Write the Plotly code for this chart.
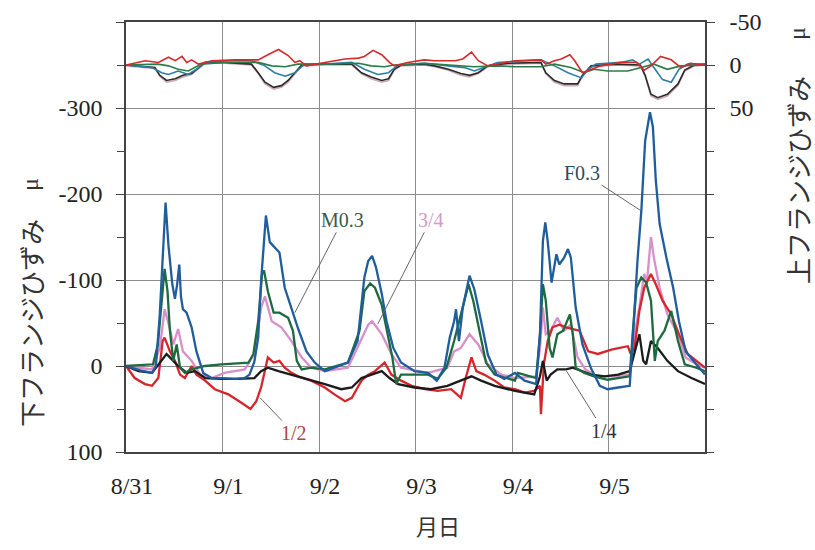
import plotly.graph_objects as go

# ---------------- data (days since 8/31 00:00) ----------------
day_ticks = [0, 1, 2, 3, 4, 5]
day_labels = ["8/31", "9/1", "9/2", "9/3", "9/4", "9/5"]

# Bottom flange strain (left axis, μ)
t_f03 = [0, 0.15, 0.27, 0.31, 0.35, 0.38, 0.41, 0.44, 0.48, 0.507, 0.53, 0.552, 0.57, 0.59, 0.628, 0.68, 0.73,
         0.80, 0.887, 0.99, 1.13, 1.23, 1.28, 1.33, 1.37, 1.40, 1.45, 1.49, 1.56, 1.59, 1.645, 1.715, 1.785, 1.87,
         1.956, 2.06, 2.16, 2.30, 2.40, 2.47, 2.51, 2.55, 2.59, 2.65, 2.70, 2.77, 2.85, 2.99, 3.13, 3.22, 3.30,
         3.355, 3.40, 3.42, 3.45, 3.49, 3.56, 3.61, 3.68, 3.75, 3.84, 3.92, 4.03, 4.13, 4.25, 4.29, 4.32, 4.345,
         4.37, 4.41, 4.46, 4.49, 4.54, 4.58, 4.61, 4.66, 4.73, 4.82, 4.91, 4.99, 5.10, 5.22, 5.25, 5.30, 5.34,
         5.38, 5.43, 5.46, 5.49, 5.53, 5.60, 5.67, 5.73, 5.80, 5.91, 6.0]
f03 = [0, 5, 8, 0, -60, -130, -190, -140, -95, -78, -95, -118, -80, -66, -62, -45, -17,
       8, 14, 14, 15, 14, 10, -5, -33, -99, -175, -144, -136, -132, -91, -66, -43, -17,
       -4, 6, 2, -4, -29, -103, -122, -128, -115, -84, -52, -21, -4, 6, 8, 17, 2,
       -33, -52, -66, -29, -68, -105, -89, -52, -13, 10, 15, 8, 17, 21, -37, -145, -167,
       -145, -97, -130, -118, -126, -136, -126, -68, -25, 3, 23, 27, 25, 23, -29, -122, -180,
       -262, -295, -278, -216, -165, -126, -91, -52, -17, -2, 10]

t_m03 = [0, 0.28, 0.33, 0.37, 0.40, 0.43, 0.455, 0.49, 0.525, 0.56, 0.61, 0.68, 0.82, 0.99, 1.13, 1.27, 1.32,
         1.37, 1.41, 1.43, 1.47, 1.53, 1.59, 1.68, 1.73, 1.77, 1.82, 1.92, 2.06, 2.30, 2.42, 2.47, 2.53, 2.58,
         2.65, 2.70, 2.76, 2.80, 2.85, 2.96, 3.13, 3.23, 3.32, 3.40, 3.47, 3.55, 3.60, 3.67, 3.73, 3.82, 4.03,
         4.06, 4.25, 4.29, 4.32, 4.35, 4.39, 4.42, 4.47, 4.53, 4.60, 4.63, 4.66, 4.75, 4.85, 4.99, 5.22, 5.25,
         5.29, 5.34, 5.39, 5.44, 5.48, 5.51, 5.58, 5.65, 5.72, 5.79, 5.91, 6.0]
m03 = [0, -2, -25, -80, -113, -87, -41, -6, -25, 2, 8, 4, 0, -2, -3, -4, -14,
       -52, -107, -111, -87, -62, -62, -56, -41, -6, 4, 2, 4, -4, -41, -87, -96, -91,
       -71, -45, -10, 21, 10, 10, 10, 15, 2, -29, -60, -95, -75, -37, -4, 10, 17,
       8, 14, -37, -95, -76, -21, -10, -37, -41, -60, -37, 2, 8, 12, 16, 12, -37,
       -91, -103, -97, -76, -6, -29, -41, -64, -29, -2, 2, 6]

t_q34 = [0, 0.27, 0.35, 0.40, 0.455, 0.49, 0.54, 0.59, 0.68, 0.77, 0.887, 1.02, 1.23, 1.33, 1.40, 1.44, 1.51,
         1.61, 1.715, 1.82, 1.92, 2.06, 2.30, 2.40, 2.51, 2.55, 2.65, 2.75, 2.85, 3.13, 3.33, 3.40, 3.47, 3.56,
         3.65, 3.75, 3.89, 4.03, 4.25, 4.29, 4.32, 4.35, 4.40, 4.47, 4.54, 4.61, 4.68, 4.76, 4.88, 5.05, 5.22,
         5.27, 5.32, 5.37, 5.40, 5.44, 5.47, 5.53, 5.61, 5.72, 5.80, 5.91, 6.0]
q34 = [0, 4, -21, -66, -43, -25, -43, -17, -6, 10, 14, 8, 4, -14, -68, -81, -52,
       -45, -29, -10, 2, 6, 2, -21, -48, -52, -37, -14, 2, 8, 2, -17, -21, -37,
       -25, -2, 10, 14, 12, -21, -68, -37, -41, -56, -41, -48, -10, 4, 12, 12, 10,
       -37, -68, -107, -99, -150, -126, -91, -60, -37, -10, -2, 2]

t_h12 = [0, 0.09, 0.197, 0.27, 0.335, 0.38, 0.40, 0.455, 0.507, 0.56, 0.61, 0.68, 0.73, 0.82, 0.92, 1.06,
         1.20, 1.29, 1.35, 1.40, 1.47, 1.53, 1.59, 1.645, 1.715, 1.785, 1.92, 2.06, 2.16, 2.27, 2.34, 2.44,
         2.51, 2.58, 2.68, 2.75, 2.85, 2.96, 3.10, 3.23, 3.37, 3.47, 3.52, 3.58, 3.63, 3.71, 3.82, 3.92, 4.03,
         4.13, 4.23, 4.29, 4.30, 4.33, 4.37, 4.42, 4.49, 4.56, 4.63, 4.70, 4.79, 4.89, 5.03, 5.20, 5.23, 5.27,
         5.32, 5.37, 5.44, 5.49, 5.56, 5.65, 5.73, 5.82, 6.0]
h12 = [0, 14, 21, 23, 14, -29, -33, -17, -6, 10, 14, 0, 10, 17, 27, 33,
       43, 50, 41, 25, -10, -4, -6, 2, 8, 12, 17, 25, 33, 41, 37, 17,
       10, 6, -4, 10, 17, 23, 27, 29, 27, 37, 14, -10, 6, 10, 17, 25, 27,
       31, 29, 23, 56, -2, -29, -45, -48, -45, -43, -41, -17, -14, -19, -23, -14, -21,
       -64, -91, -107, -95, -76, -60, -37, -14, 2]

t_q14 = [0, 0.13, 0.27, 0.37, 0.42, 0.49, 0.54, 0.63, 0.715, 0.82, 0.99, 1.16, 1.33, 1.40, 1.47, 1.58, 1.715,
         1.85, 2.06, 2.23, 2.34, 2.44, 2.54, 2.65, 2.73, 2.82, 2.99, 3.16, 3.33, 3.47, 3.58, 3.68, 3.82, 4.03,
         4.23, 4.29, 4.32, 4.36, 4.40, 4.47, 4.56, 4.63, 4.72, 4.82, 4.96, 5.10, 5.22, 5.27, 5.32, 5.36, 5.39,
         5.44, 5.51, 5.61, 5.72, 5.86, 6.0]
q14 = [0, 6, 8, -6, -14, -6, 0, 8, 6, 14, 15, 15, 14, 6, 2, 6, 10,
       14, 21, 27, 25, 14, 10, 6, 14, 21, 25, 27, 23, 17, 12, 17, 23, 29,
       33, 12, -6, 17, 10, 4, 4, 2, 6, 10, 12, 10, 6, -14, -37, -6, -2,
       -29, -21, -6, 6, 14, 21]

# Top flange strain (right axis, μ)
t_top_r = [0, 0.20, 0.335, 0.44, 0.51, 0.58, 0.63, 0.68, 0.75, 0.89, 1.13, 1.37, 1.47, 1.58, 1.68, 1.75, 1.80,
           1.87, 2.06, 2.27, 2.41, 2.47, 2.56, 2.65, 2.73, 2.78, 2.92, 3.09, 3.20, 3.41, 3.49, 3.58, 3.65, 3.75,
           4.03, 4.30, 4.35, 4.44, 4.51, 4.60, 4.65, 4.73, 4.92, 5.13, 5.29, 5.37, 5.44, 5.54, 5.65, 5.75, 5.85,
           6.0]
top_r = [0, -5, -3, -9, -5, -10, -3, -6, -1, -5, -6, -6, -12, -18, -11, -3, -5,
         1, -3, -7, -8, -10, -17, -12, -3, 1, -3, -6, -5, -5, -7, -15, -5, 1,
         -5, -6, -1, -5, -7, -12, -5, 9, 1, -3, -3, 6, 1, -10, -6, 3, -2,
         0]

t_top_g = [0, 0.33, 0.44, 0.54, 0.645, 0.78, 1.02, 1.37, 1.51, 1.65, 1.78, 2.06, 2.41, 2.54, 2.68, 2.78, 3.09,
           3.34, 3.61, 3.85, 4.03, 4.30, 4.44, 4.61, 4.75, 4.85, 4.99, 5.20, 5.33, 5.47, 5.61, 5.75, 6.0]
top_g = [0, -1, 1, 5, 7, -1, -3, -3, 1, 2, -1, -1, -2, 1, 2, 0, -2,
         0, 2, 1, 2, 2, -1, 3, 9, 5, 7, 7, 3, -1, 5, 1, 0]

t_top_b = [0, 0.27, 0.37, 0.44, 0.54, 0.645, 0.73, 0.82, 1.02, 1.30, 1.44, 1.54, 1.65, 1.75, 1.85, 2.06, 2.34,
           2.47, 2.61, 2.72, 2.82, 3.09, 3.34, 3.51, 3.61, 3.72, 3.85, 4.30, 4.44, 4.58, 4.72, 4.79, 4.87, 5.13,
           5.25, 5.32, 5.41, 5.47, 5.56, 5.65, 5.73, 5.82, 6.0]
top_b = [0, 3, 9, 11, 7, 11, 5, -3, -5, -5, 1, 9, 13, 9, -1, -1, -3,
         5, 11, 9, 0, -2, 1, 3, 7, 2, -3, -6, 1, 9, 15, 5, -1, -3,
         -6, -1, -7, 3, 17, 20, 5, -1, -1]

t_top_k = [0, 0.30, 0.35, 0.42, 0.51, 0.59, 0.68, 0.75, 0.82, 1.02, 1.30, 1.37, 1.44, 1.53, 1.61, 1.68, 1.75,
           1.82, 2.06, 2.34, 2.44, 2.54, 2.65, 2.72, 2.78, 2.85, 3.09, 3.20, 3.34, 3.47, 3.56, 3.65, 3.75, 3.96,
           4.30, 4.35, 4.44, 4.54, 4.68, 4.73, 4.82, 5.06, 5.33, 5.38, 5.44, 5.51, 5.61, 5.72, 5.79, 5.89, 6.0]
top_k = [0, 3, 12, 18, 16, 12, 10, 3, -3, -3, -1, 9, 20, 26, 24, 18, 9,
         0, -1, -1, 9, 14, 18, 16, 5, 0, -1, 1, 5, 10, 12, 9, 1, -2,
         -3, 9, 18, 22, 22, 12, 1, -1, 0, 12, 34, 38, 34, 22, 6, 0, -1]

t_top_p = [0, 0.30, 0.35, 0.42, 0.51, 0.59, 0.68, 0.75, 0.82, 1.02, 1.30, 1.37, 1.44, 1.53, 1.61, 1.68, 1.75,
           1.82, 2.06, 2.34, 2.44, 2.54, 2.65, 2.72, 2.78, 2.85, 3.09, 3.20, 3.34, 3.47, 3.56, 3.65, 3.75, 3.96,
           4.30, 4.35, 4.44, 4.54, 4.68, 4.73, 4.82, 5.06, 5.33, 5.38, 5.44, 5.51, 5.61, 5.72, 5.79, 5.89, 6.0]
top_p = [1, 4, 13, 20, 18, 14, 11, 4, -2, -2, 0, 10, 22, 28, 26, 20, 10,
         1, 0, 0, 10, 16, 20, 18, 6, 1, 0, 2, 6, 12, 14, 10, 2, -1,
         -2, 10, 20, 24, 24, 13, 2, 0, 1, 13, 36, 40, 36, 24, 7, 1, 0]

# ---------------- figure ----------------
W, H = 815, 550
L, R, T, B = 126, 110, 22, 98
PW, PH = W - L - R, H - T - B


def px(x):
    return (x - L) / PW


def py(y):
    return (H - B - y) / PH


fig = go.Figure()

bottom = [
    (t_q34, q34, "#d98fc9", "3/4"),
    (t_h12, h12, "#d6252b", "1/2"),
    (t_q14, q14, "#1c1c1c", "1/4"),
    (t_m03, m03, "#1e6a3f", "M0.3"),
    (t_f03, f03, "#1f5d9c", "F0.3"),
]
for t, v, c, n in bottom:
    fig.add_trace(go.Scatter(x=t, y=v, mode="lines", name=n, line=dict(color=c, width=2.3), yaxis="y"))

top = [
    (t_top_p, top_p, "#cfaab9", "上 3/4"),
    (t_top_k, top_k, "#2a2a2a", "上 1/4"),
    (t_top_b, top_b, "#2a7ea3", "上 F0.3"),
    (t_top_g, top_g, "#2d7c47", "上 M0.3"),
    (t_top_r, top_r, "#d42a2e", "上 1/2"),
]
for t, v, c, n in top:
    fig.add_trace(go.Scatter(x=t, y=v, mode="lines", name=n, line=dict(color=c, width=1.6), yaxis="y2"))

tickfont = dict(family="Liberation Serif", size=24, color="#222")
grid = "#8c8c8c"
frame = "#444"

fig.update_layout(
    width=W, height=H,
    margin=dict(l=L, r=R, t=T, b=B, autoexpand=False),
    paper_bgcolor="white", plot_bgcolor="white",
    showlegend=False,
    xaxis=dict(range=[0, 6], tickvals=day_ticks, ticktext=day_labels, tickfont=tickfont, automargin=False,
               showgrid=True, gridcolor=grid, gridwidth=1, showline=True, linecolor=frame, linewidth=1.5,
               mirror=True, ticks="", ticklabelstandoff=11, ticklabelshift=6, zeroline=False),
    yaxis=dict(range=[100, -400], tickvals=[-400, -300, -200, -100, 0, 100], automargin=False,
               ticktext=["", "-300", "-200", "-100", "0", "100"], tickfont=tickfont,
               showgrid=True, gridcolor=grid, gridwidth=1, showline=True, linecolor=frame, linewidth=1.5,
               ticks="outside", ticklen=8, tickcolor=frame, ticklabelstandoff=9, zeroline=False,
               minor=dict(dtick=50, tick0=0, ticks="outside", ticklen=7, tickcolor=frame, showgrid=False)),
    yaxis2=dict(range=[450, -50], overlaying="y", side="right", tickvals=[-50, 0, 50], automargin=False,
                ticktext=["-50", "0", "50"], tickfont=tickfont, showgrid=False, zeroline=False,
                showline=True, linecolor=frame, linewidth=1.5,
                ticks="outside", ticklen=8, tickcolor=frame, ticklabelstandoff=10,
                minor=dict(dtick=50, tick0=0, ticks="outside", ticklen=7, tickcolor=frame, showgrid=False)),
)

lblfont = dict(family="Liberation Serif", size=20)
labels = [
    ("M0.3", 2.246, -170, 1.75, -62, "#3d5a4a"),
    ("3/4", 3.157, -170, 2.61, -49, "#d49ac8"),
    ("F0.3", 4.73, -225, 5.33, -181, "#2c4a66"),
    ("1/2", 1.74, 78, 1.39, 37, "#b5443a"),
    ("1/4", 4.95, 75, 4.565, 6, "#333333"),
]
for txt, ax, ay, x, y, c in labels:
    fig.add_annotation(x=x, y=y, xref="x", yref="y", ax=ax, ay=ay, axref="x", ayref="y",
                       text=txt, showarrow=True, arrowhead=0, arrowwidth=1, arrowcolor="#666",
                       standoff=0, font=dict(lblfont, color=c))

titlefont = dict(family="Noto Sans CJK JP", size=26, color="#333")
mufont = dict(family="Liberation Serif", size=24, color="#333")
titles = [
    ("下フランジひずみ", 30, 323, titlefont),
    ("μ", 30, 185, mufont),
    ("上フランジひずみ", 797, 180, titlefont),
    ("μ", 797, 34, mufont),
]
for txt, x, y, f in titles:
    fig.add_annotation(x=px(x), y=py(y), xref="paper", yref="paper", text=txt, textangle=-90,
                       xanchor="center", yanchor="middle", showarrow=False, font=f)
fig.add_annotation(x=px(438), y=py(525), xref="paper", yref="paper", text="月日",
                   xanchor="center", yanchor="middle", showarrow=False,
                   font=dict(family="Noto Sans CJK JP", size=22, color="#333"))

fig.write_html("out.html", config={"displayModeBar": False},
               post_script="document.body.style.margin='0';document.body.style.overflow='hidden';")
